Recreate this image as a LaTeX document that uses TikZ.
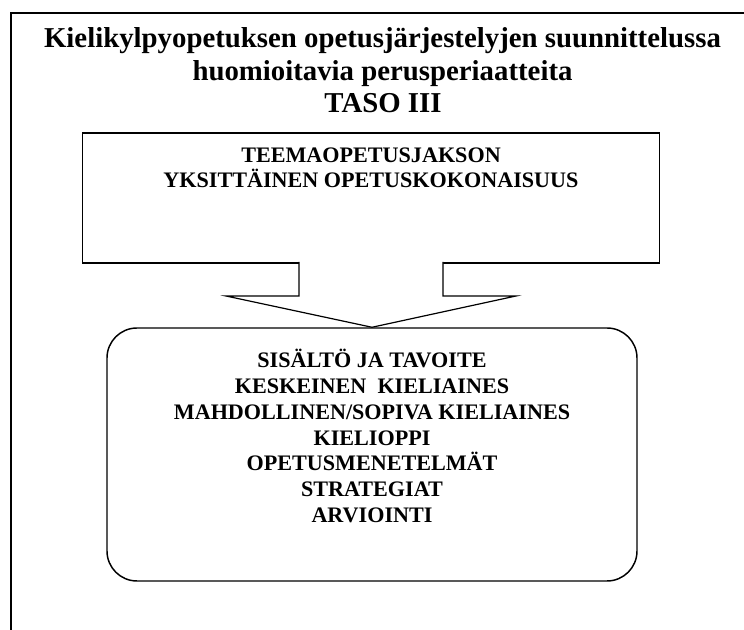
\documentclass[tikz,border=0pt]{standalone}
\usepackage{fontspec}
\setmainfont{Liberation Serif}
\begin{document}
\begin{tikzpicture}[x=0.75pt,y=-0.75pt,
  frameline/.style={line width=1.5pt},
  boxline/.style={line width=1.1pt},
  titletext/.style={inner sep=0pt, anchor=base, font=\fontsize{21.6}{26}\selectfont\bfseries},
  boxtext/.style={inner sep=0pt, anchor=base, font=\fontsize{16.6}{20}\selectfont\bfseries},
  squarebox/.style={draw, boxline, minimum width=432.75pt, minimum height=97.5pt, inner sep=0pt},
  roundbox/.style={draw, boxline, rounded corners=22.5pt, minimum width=397.5pt, minimum height=189.75pt, inner sep=0pt},
  arrowline/.style={line width=0.9pt, line join=miter}]
\useasboundingbox (0,0) rectangle (744,630);

% page frame (top and left edges)
\draw[frameline] (11,632) -- (11,12.7) -- (746,12.7);

% heading
\node[titletext] (t1) at (382.5,47.3) {Kielikylpyopetuksen opetusjärjestelyjen suunnittelussa};
\node[titletext] (t2) at (382.5,80.5) {huomioitavia perusperiaatteita};
\node[titletext] (t3) at (383,112.7) {TASO III};

% upper box
\node[squarebox] (upper) at (371,198) {};
\node[boxtext] (u1) at (371,162.7) {TEEMAOPETUSJAKSON};
\node[boxtext] (u2) at (371,188) {YKSITTÄINEN OPETUSKOKONAISUUS};

% lower rounded box
\node[roundbox] (lower) at (372,454.5) {};
\foreach \txt [count=\i] in {SISÄLTÖ JA TAVOITE, KESKEINEN\ \ KIELIAINES,
    MAHDOLLINEN/SOPIVA KIELIAINES, KIELIOPPI, OPETUSMENETELMÄT, STRATEGIAT, ARVIOINTI}
  \node[boxtext] (item\i) at (372,{368+25.7*(\i-1)}) {\txt};

% block arrow from the upper box to the lower box
\coordinate (stemL) at (299,262);
\coordinate (stemR) at (443,262);
\filldraw[arrowline, fill=white] (stemL) -- (299,296) -- (226,296) -- (lower.north)
  -- (516,296) -- (443,296) -- (stemR);
\end{tikzpicture}
\end{document}
